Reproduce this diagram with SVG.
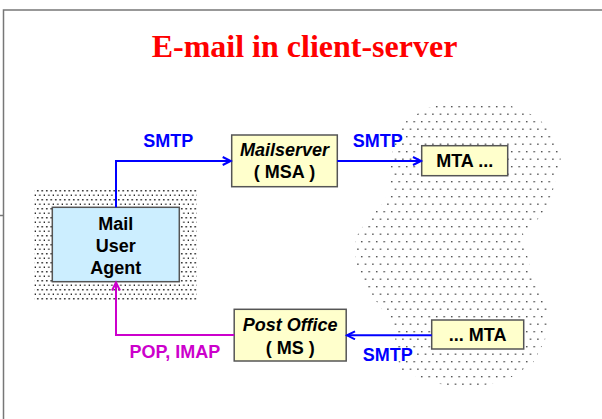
<svg xmlns="http://www.w3.org/2000/svg" width="602" height="419" viewBox="0 0 602 419">
<style>
.box{fill:#ffffcc;stroke:#555;stroke-width:1.5}
.mua{fill:#cceeff;stroke:#555;stroke-width:1.5}
.t{font-family:"Liberation Sans",Arial,sans-serif;font-weight:bold;font-size:18px;fill:#000;text-anchor:middle}
.ti{font-style:italic}
.lbl{font-family:"Liberation Sans",Arial,sans-serif;font-weight:bold;font-size:18px}
.blue{stroke:#0000ff;stroke-width:2;fill:none}
.mag{stroke:#cc00cc;stroke-width:2;fill:none}
</style>
<defs>
<pattern id="cloudDots" patternUnits="userSpaceOnUse" width="7.5" height="15">
<rect x="1" y="1" width="1.4" height="1.4" fill="#444"/>
<rect x="4.75" y="8.5" width="1.4" height="1.4" fill="#444"/>
</pattern>
<pattern id="muaDots" patternUnits="userSpaceOnUse" width="4.5" height="9">
<rect x="1" y="1" width="1.5" height="1.5" fill="#222"/>
<rect x="3.25" y="5.5" width="1.5" height="1.5" fill="#222"/>
</pattern>
<marker id="arrB" markerUnits="userSpaceOnUse" markerWidth="12" markerHeight="12" refX="9" refY="5" orient="auto">
<path d="M1,1 L9,5 L1,9" fill="none" stroke="#0000ff" stroke-width="2"/>
</marker>
<marker id="arrM" markerUnits="userSpaceOnUse" markerWidth="12" markerHeight="12" refX="9" refY="5" orient="auto">
<path d="M1,1 L9,5 L1,9" fill="none" stroke="#cc00cc" stroke-width="2"/>
</marker>
</defs>
<rect width="602" height="419" fill="#fff"/>
<g id="frame" stroke="#777" stroke-width="1.5" fill="none">
<path d="M3.5,419 V10 H602"/>
<path d="M0,215.5 H3"/>
</g>
<text x="304.5" y="57" font-family="'Liberation Serif','Times New Roman',serif" font-weight="bold" font-size="32" fill="#ff0000" text-anchor="middle">E-mail in client-server</text>
<g id="cloud">
<polygon fill="url(#cloudDots)" points="407,120 425,109 440,104 466,100 500,103 522,109 540,120 554,136 561,157 558,175 553,190 547,205 540,217 523,233 525,245 533,280 547,307 548,325 545,340 533,363 507,380 485,385 463,387 440,384 420,378 400,370 396,345 393,323 380,307 363,280 355,263 355,240 360,230 383,203 390,190 391,157 397,137"/>
</g>
<g id="mua">
<rect x="34" y="189" width="163" height="112" fill="url(#muaDots)"/>
<rect class="mua" x="52.3" y="207.3" width="127" height="74.4"/>
<text class="t" x="115.8" y="230">Mail</text>
<text class="t" x="115.8" y="252">User</text>
<text class="t" x="115.8" y="274">Agent</text>
</g>
<g id="mailserver">
<rect class="box" x="231.7" y="135" width="105.6" height="51.7"/>
<text class="t ti" x="284.5" y="155.5">Mailserver</text>
<text class="t" x="284.5" y="178">( MSA )</text>
</g>
<g id="mta1">
<rect class="box" x="421.7" y="145.7" width="86" height="30"/>
<text class="t" x="464.7" y="167">MTA ...</text>
</g>
<g id="mta2">
<rect class="box" x="431.7" y="320" width="92" height="29"/>
<text class="t" x="477.7" y="341">... MTA</text>
</g>
<g id="postoffice">
<rect class="box" x="234.2" y="309.3" width="112" height="51.7"/>
<text class="t ti" x="290.2" y="331">Post Office</text>
<text class="t" x="290.2" y="354">( MS )</text>
</g>
<g id="connectors">
<path class="blue" d="M116,207.3 V161 H230.7" marker-end="url(#arrB)"/>
<path class="blue" d="M337.3,161 H421" marker-end="url(#arrB)"/>
<path class="blue" d="M431.7,335.3 H347" marker-end="url(#arrB)"/>
<path class="mag" d="M234.2,335 H116 V282.5" marker-end="url(#arrM)"/>
<text class="lbl" x="143.3" y="146.7" fill="#0000ff">SMTP</text>
<text class="lbl" x="352.7" y="146.7" fill="#0000ff">SMTP</text>
<text class="lbl" x="362.7" y="361" fill="#0000ff">SMTP</text>
<text class="lbl" x="129.6" y="358.3" fill="#cc00cc">POP, IMAP</text>
</g>
</svg>
